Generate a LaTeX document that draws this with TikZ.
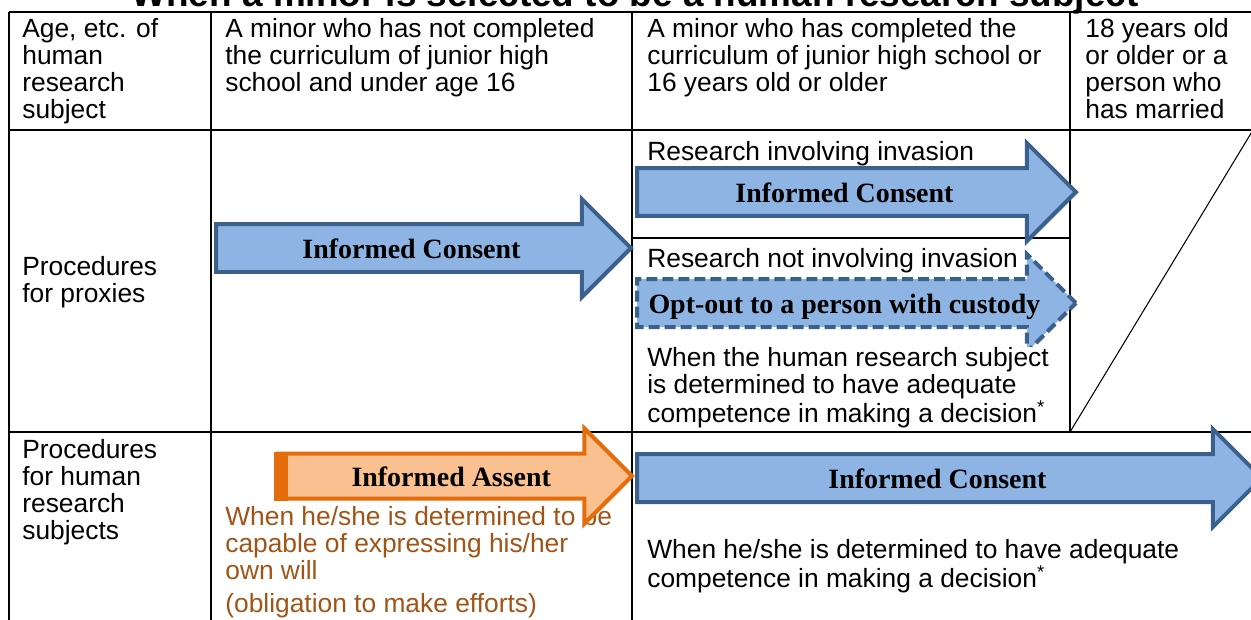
\documentclass[tikz,border=0pt]{standalone}
\usepackage{fontspec}
\setmainfont{Liberation Sans}
\newfontfamily\labelserif{Liberation Serif}
\usepackage{tikz}
\usetikzlibrary{positioning,shapes.arrows}
\usepackage{xcolor}
\definecolor{ConsentFill}{RGB}{141,180,226}
\definecolor{ConsentEdge}{RGB}{60,96,140}
\definecolor{AssentFill}{RGB}{250,192,144}
\definecolor{AssentEdge}{RGB}{228,108,10}
\definecolor{AssentText}{RGB}{160,84,22}

\begin{document}
\begin{tikzpicture}[x=0.02cm, y=-0.02cm,
    cell/.style={anchor=north west, inner sep=0pt, align=left,
                 font=\fontsize{15pt}{15.4pt}\selectfont},
    tablerule/.style={line width=0.05cm},
    consent/.style={single arrow, single arrow head extend=0.5cm,
                    anchor=tail, draw=ConsentEdge, fill=ConsentFill,
                    line width=0.08cm, inner xsep=0pt, inner ysep=0.18cm,
                    text height=0.46cm, text depth=0.06cm,
                    font=\labelserif\bfseries\fontsize{15.9pt}{18pt}\selectfont},
    optout/.style={consent, dash pattern=on 0.22cm off 0.1cm},
    assent/.style={consent, draw=AssentEdge, fill=AssentFill, inner ysep=0.15cm}
]
    \useasboundingbox (0,0) rectangle (1251,619);
    \clip (0,0) rectangle (1251,619);

    % title, cut off by the top edge
    \node[anchor=base, font=\bfseries\fontsize{21pt}{24pt}\selectfont] (title) at (635,6)
        {When a minor is selected to be a human research subject};

    % table
    \draw[tablerule] (9,12) -- (1262,12);
    \draw[tablerule] (9,130) -- (1262,130);
    \draw[tablerule] (9,432) -- (1262,432);
    \draw[tablerule] (632,238) -- (1070,238);
    \draw[tablerule] (9,12) -- (9,630);
    \draw[tablerule] (211,12) -- (211,630);
    \draw[tablerule] (632,12) -- (632,630);
    \draw[tablerule] (1070,12) -- (1070,432);
    \draw[line width=0.6pt] (1070,432) -- (1253,130);

    % header row
    \node[cell] (agehead) at (22,18) {Age, etc. of\\human\\research\\subject};
    \node[cell] (younghead) at (225,18) {A minor who has not completed\\the curriculum of junior high\\school and under age 16};
    \node[cell] (olderhead) at (647,18) {A minor who has completed the\\curriculum of junior high school or\\16 years old or older};
    \node[cell] (adulthead) at (1085,18) {18 years old\\or older or a\\person who\\has married};

    % row labels
    \node[cell] (proxyrow) at (22,256) {Procedures\\for proxies};
    \node[cell] (subjectrow) at (22,439) {Procedures\\for human\\research\\subjects};

    % conditions in the subjects row
    \node[cell, text=AssentText] (willcond) at (225,506) {When he/she is determined to be\\capable of expressing his/her\\own will};
    \node[cell, text=AssentText] (effort) at (225,593) {(obligation to make efforts)};
    \node[cell] (decidecond) at (647,539) {When he/she is determined to have adequate\\competence in making a decision\textsuperscript{*}};
    \node[cell] (invasion) at (647,141) {Research involving invasion};

    % arrows
    \node[consent, minimum height=8.3cm] (proxyconsent) at (214,248) {Informed Consent};
    \node[consent, minimum height=8.78cm] (invconsent) at (635,192) {Informed Consent};
    \node[optout, minimum height=8.78cm] (custody) at (635,303) {Opt-out to a person with custody};
    \node[assent, minimum height=7.08cm] (assent) at (276,476) {\hspace{0.3cm}Informed Assent};
    \fill[AssentEdge] ([xshift=-0.04cm]assent.before tail) rectangle ([xshift=0.24cm]assent.after tail);
    \node[consent, minimum height=12.5cm] (subjconsent) at (635,478) {Informed Consent};

    % texts lying over the dashed arrow
    \node[cell, fill=white] (noinvasion) at (647,248) {Research not involving invasion};
    \node[cell, fill=white] (judgecond) at (647,347) {When the human research subject\\is determined to have adequate\\competence in making a decision\textsuperscript{*}};
\end{tikzpicture}
\end{document}
